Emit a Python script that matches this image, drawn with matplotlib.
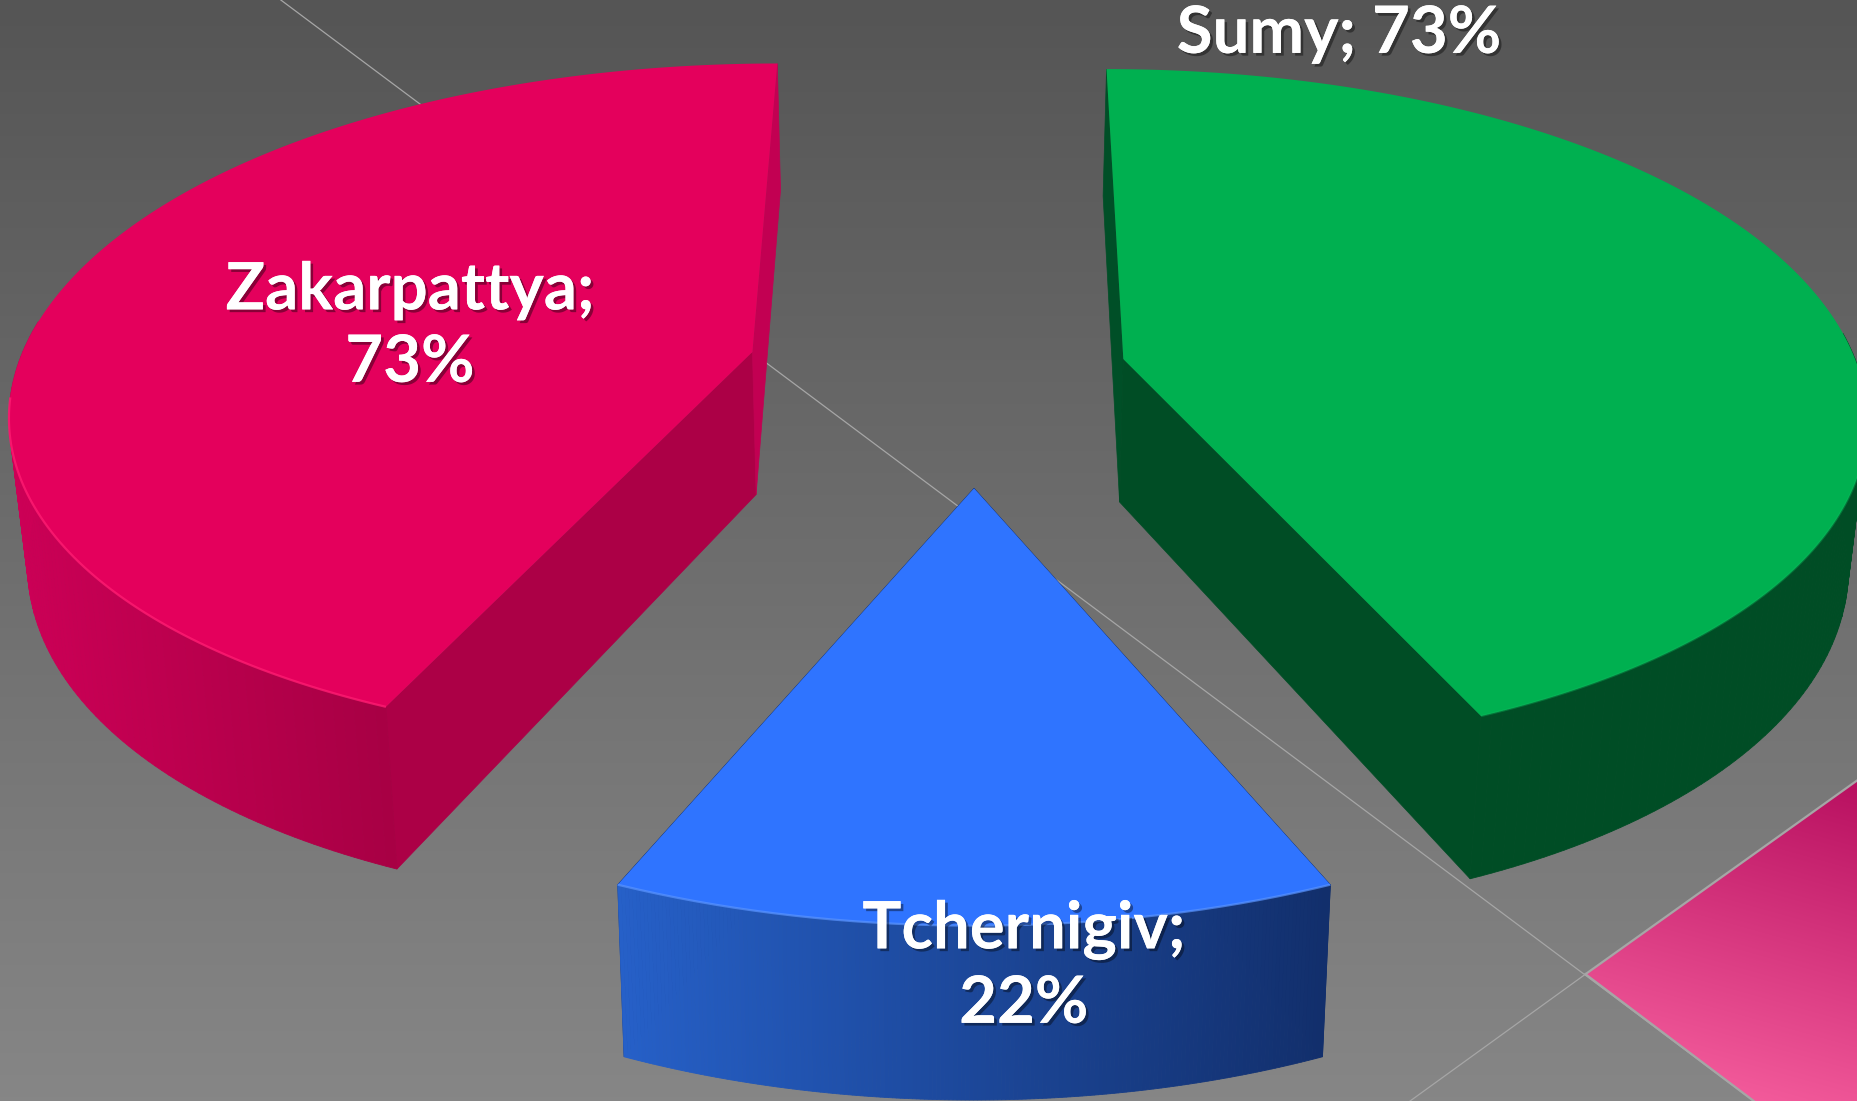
import numpy as np
import matplotlib
matplotlib.use("Agg")
import matplotlib.pyplot as plt
import matplotlib.patheffects as pe
from matplotlib.colors import to_rgb
from matplotlib.patches import Polygon

# chart data, clockwise from the top
names = ["Sumy", "Tchernigiv", "Zakarpattya"]
values = [73, 22, 73]

# look of each slice
top_colors = ["#00b050", "#2f74ff", "#e4005c"]
side_left = ["#004d25", "#2660c8", "#cc0056"]
side_right = ["#004d25", "#122f6c", "#a80044"]
near_face = ["#004d25", "#122f6c", "#ac0046"]
far_face = ["#004f27", "#122f6c", "#c20052"]
rim_colors = ["#0cc060", "#5a94ff", "#ff1c72"]
rim_alpha = [0.35, 0.7, 0.8]
label_pos = [(1130, 29), (864, 816), (346, 276)]
label_wrap = [False, True, True]

# perspective of the pie, in units of the 1568 wide preview
center_x = 822
horizon_y = -1870
radius_x = 0.288
radius_inv = 0.597e-4
rim_shift = 1.3e-6
rim_flat = 0.013
apex_screen = [(948, 303), (822, 412), (635, 297)]
thick = 0.0555
nadir_x = 790
nadir_k = 0.02


def project(apex, theta):
    s0 = apex[1] - horizon_y
    x0 = (apex[0] - center_x) / s0
    s = 1 / (1 / s0 + radius_inv * np.cos(theta) - rim_shift)
    r = radius_x * np.sin(theta) * (1 - rim_flat * np.sin(theta) ** 2)
    return center_x + s * (x0 + r), horizon_y + s, s


def lower(x, y, s):
    return x + (nadir_x - x) * nadir_k, y + thick * s


def gradient(ax, poly, img, col_from, col_to):
    c0 = np.array(to_rgb(col_from))
    c1 = np.array(to_rgb(col_to))
    rgb = c0 + (c1 - c0) * img[..., None]
    im = ax.imshow(rgb, extent=(0, 1568, 929, 0), aspect="auto", zorder=1,
                   interpolation="bilinear")
    p = Polygon(poly, transform=ax.transData, fc="none", ec="none")
    ax.add_patch(p)
    im.set_clip_path(p)


fig = plt.figure(figsize=(18.58, 11.01), dpi=100)
ax = fig.add_axes([0, 0, 1, 1])
ax.set_xlim(0, 1568)
ax.set_ylim(929, 0)
ax.axis("off")

# background and the thin crossing lines
yy, xx = np.mgrid[0:1:300j, 0:1:300j]
gray = (0x55 + (0x86 - 0x55) * yy) / 255
ax.imshow(np.dstack([gray, gray, gray]), extent=(0, 1568, 929, 0), aspect="auto", zorder=0)

gradient(ax, [(1568, 658), (1338, 822), (1480, 929), (1568, 929)],
         np.clip((yy * 929 - 660 + (1568 - xx * 1568) * 0.28) / 300, 0, 1), "#b81060", "#f45c9c")
ax.plot([237, 1480], [0, 929], color="#a6a6a6", lw=0.9, zorder=2)
ax.plot([1190, 1338], [929, 822], color="#a6a6a6", lw=0.9, zorder=2)
ax.plot([1338, 1568], [822, 658], color="#a6a6a6", lw=1.6, zorder=2)
ax.plot([1338, 1480], [822, 929], color="#a6a6a6", lw=1.6, zorder=2)

# angles come from the values
edges = np.cumsum([0] + values) / sum(values) * 2 * np.pi

for i, name in enumerate(names):
    apex = apex_screen[i]
    t = np.linspace(edges[i], edges[i + 1], 181)
    x, y, s = project(apex, t)
    bx, by = lower(x, y, s)
    abx, aby = lower(apex[0], apex[1], apex[1] - horizon_y)
    z = 3 + i * 0.1

    # flat cut faces
    for k in (0, -1):
        col = far_face[i] if np.cos(t[k]) > 0 else near_face[i]
        ax.add_patch(Polygon([apex, (x[k], y[k]), (bx[k], by[k]), (abx, aby)], fc=col,
                             ec=col, lw=0.5, zorder=z))

    # outer wall, one strip per angle step, only the part facing the viewer
    c0 = np.array(to_rgb(side_left[i]))
    c1 = np.array(to_rgb(side_right[i]))
    lo = bx.min()
    hi = bx[np.argmax(by)] if i == 2 else bx.max()
    for j in range(len(t) - 1):
        if np.cos(t[j]) > 0.1:
            continue
        f = np.clip((bx[j] - lo) / max(hi - lo, 1), 0, 1)
        col = c0 + (c1 - c0) * f
        ax.add_patch(Polygon([(x[j], y[j]), (x[j + 1], y[j + 1]), (bx[j + 1], by[j + 1]), (bx[j], by[j])],
                             fc=col, ec=col, lw=0.6, zorder=z + 0.01))

    # top face and the light rim
    ax.add_patch(Polygon(list(zip(x, y)) + [apex], fc=top_colors[i], ec="none", zorder=z + 0.02))
    near = -np.cos(t) > 0.1
    ax.plot(x[near], y[near], color=rim_colors[i], lw=1.6, alpha=rim_alpha[i], zorder=z + 0.03,
            solid_capstyle="butt")

# labels
for i, name in enumerate(names):
    sep = "\n" if label_wrap[i] else " "
    ax.text(label_pos[i][0], label_pos[i][1], f"{name};{sep}{values[i]}%", color="white",
            family="Lato", weight="bold", fontsize=47, ha="center", va="center",
            linespacing=1.28, zorder=10,
            path_effects=[pe.withSimplePatchShadow(offset=(2, -2), shadow_rgbFace="black", alpha=0.4),
                          pe.Normal()])

fig.savefig("out.png", dpi=100)
